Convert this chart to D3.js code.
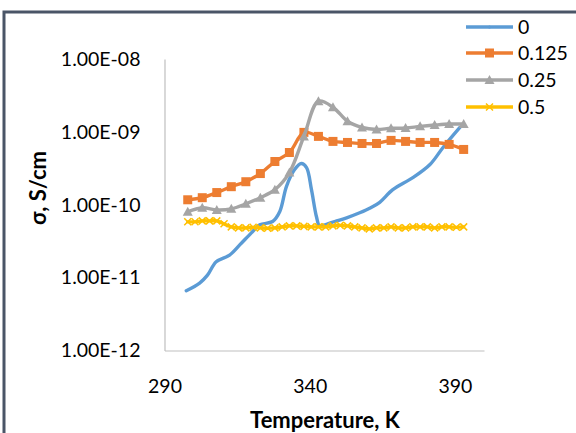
<!DOCTYPE html>
<html>
<head>
<meta charset="utf-8">
<script src="https://cdn.jsdelivr.net/npm/d3@7"></script>
<style>
  html, body { margin: 0; padding: 0; background: #fff; }
  svg { display: block; }
  text { font-family: Lato, "Open Sans", sans-serif; fill: #000; }
</style>
</head>
<body>
<svg id="chart" width="576" height="433"></svg>
<script>
// ---------- data ----------
const seriesNames = ["0", "0.125", "0.25", "0.5"];
const seriesColors = ["#5B9BD5", "#ED7D31", "#A5A5A5", "#FFC000"];

const tempBlue = [297.5, 302.1, 304.8, 307.8, 312.4, 315.9, 319.9, 322.8, 327.2, 329.7,
  332.0, 334.8, 337.1, 338.9, 340.6, 342.3, 343.4, 345.2, 348.6, 352.7,
  357.2, 361.0, 364.1, 368.6, 375.5, 381.4, 385.9, 391.7];
const sigmaBlue = [6.6e-12, 8.4e-12, 1.08e-11, 1.65e-11, 2.04e-11, 2.81e-11, 4.11e-11, 5.30e-11, 5.89e-11, 8.09e-11,
  1.79e-10, 3.04e-10, 3.68e-10, 3.24e-10, 1.61e-10, 6.90e-11, 5.13e-11, 5.30e-11, 5.89e-11, 6.62e-11,
  7.76e-11, 9.10e-11, 1.08e-10, 1.61e-10, 2.35e-10, 3.56e-10, 6.11e-10, 1.15e-9];

const tempMarked = [298, 303, 308, 313, 318, 323, 328, 333, 338, 343,
  348, 353, 358, 363, 368, 373, 378, 383, 388, 393];
const sigmaOrange = [1.17e-10, 1.25e-10, 1.47e-10, 1.77e-10, 2.07e-10, 2.68e-10, 3.92e-10, 5.21e-10, 9.84e-10, 8.67e-10,
  7.40e-10, 7.16e-10, 6.93e-10, 6.93e-10, 7.64e-10, 7.40e-10, 7.16e-10, 7.16e-10, 6.73e-10, 5.74e-10];
const sigmaGray = [8.0e-11, 9.1e-11, 8.5e-11, 8.8e-11, 1.03e-10, 1.25e-10, 1.61e-10, 2.76e-10, 8.67e-10, 2.64e-9,
  2.18e-9, 1.40e-9, 1.15e-9, 1.08e-9, 1.12e-9, 1.13e-9, 1.19e-9, 1.24e-9, 1.28e-9, 1.28e-9];

const tempYellow = [298, 300.5, 303, 305.5, 308, 310.5, 313, 315.5, 318, 320.5,
  323, 325.5, 328, 330.5, 333, 335.5, 338, 340.5, 343, 345.5,
  348, 350.5, 353, 355.5, 358, 360.5, 363, 365.5, 368, 370.5,
  373, 375.5, 378, 380.5, 383, 385.5, 388, 390.5, 393];
const sigmaYellow = [5.83e-11, 5.83e-11, 6.01e-11, 6.01e-11, 6.01e-11, 5.47e-11, 4.97e-11, 4.82e-11, 4.82e-11, 4.90e-11,
  4.82e-11, 4.75e-11, 4.82e-11, 4.97e-11, 5.13e-11, 5.13e-11, 5.05e-11, 4.97e-11, 4.97e-11, 4.97e-11,
  5.13e-11, 5.21e-11, 5.13e-11, 4.97e-11, 4.82e-11, 4.67e-11, 4.82e-11, 4.82e-11, 4.97e-11, 4.82e-11,
  4.82e-11, 4.97e-11, 4.97e-11, 4.97e-11, 4.82e-11, 4.97e-11, 4.97e-11, 4.90e-11, 4.97e-11];

const xTicks = [290, 340, 390];
const yTicks = [1e-12, 1e-11, 1e-10, 1e-9, 1e-8];
const yTickLabels = ["1.00E-12", "1.00E-11", "1.00E-10", "1.00E-09", "1.00E-08"];
const xTitle = "Temperature, K";
const yTitle = "σ, S/cm";

// ---------- layout ----------
const svg = d3.select("#chart");
const plot = { left: 164.5, right: 484, top: 59, bottom: 350.5 };

const x = d3.scaleLinear().domain([290, 400]).range([plot.left, plot.right]);
const y = d3.scaleLog().domain([1e-12, 1e-8]).range([plot.bottom, plot.top]);

// outer frame (partial border visible in reference)
svg.append("path")
  .attr("d", `M4,433 L4,12 L576,12`)
  .attr("fill", "none")
  .attr("stroke", "#4a5567")
  .attr("stroke-width", 3);

// axes
const yAxis = d3.axisLeft(y)
  .tickValues(yTicks)
  .tickFormat((d, i) => yTickLabels[i])
  .tickSize(0).tickSizeOuter(0).tickPadding(24);
const gy = svg.append("g").attr("transform", `translate(${plot.left},0)`).call(yAxis);
gy.select(".domain").attr("stroke", "#BFBFBF").attr("stroke-width", 1.2);
gy.selectAll("text").style("font-family", "Lato, sans-serif").style("font-size", "19.5px").attr("fill", "#000");

const xAxis = d3.axisBottom(x)
  .tickValues(xTicks)
  .tickFormat(d3.format("d"))
  .tickSize(0).tickSizeOuter(0).tickPadding(29);
const gx = svg.append("g").attr("transform", `translate(0,${plot.bottom})`).call(xAxis);
gx.select(".domain").attr("stroke", "#BFBFBF").attr("stroke-width", 1.2);
gx.selectAll("text").style("font-family", "Lato, sans-serif").style("font-size", "19.5px").attr("fill", "#000");

// axis titles
svg.append("text")
  .attr("x", 325).attr("y", 428)
  .attr("text-anchor", "middle")
  .style("font-size", "22px").style("font-weight", "bold")
  .text(xTitle);
svg.append("text")
  .attr("transform", `translate(46,188) rotate(-90)`)
  .attr("text-anchor", "middle")
  .style("font-size", "22px").style("font-weight", "bold")
  .text(yTitle);

// ---------- series ----------
const line = d3.line()
  .x(d => x(d[0])).y(d => y(d[1]))
  .curve(d3.curveCatmullRom.alpha(0.5));

const series = [
  { data: d3.zip(tempBlue, sigmaBlue), marker: "none" },
  { data: d3.zip(tempMarked, sigmaOrange), marker: "square" },
  { data: d3.zip(tempMarked, sigmaGray), marker: "triangle" },
  { data: d3.zip(tempYellow, sigmaYellow), marker: "cross" }
];

function drawMarker(g, type, color, cx, cy) {
  if (type === "square") {
    g.append("rect").attr("x", cx - 4.5).attr("y", cy - 4.5).attr("width", 9).attr("height", 9)
      .attr("fill", color);
  } else if (type === "triangle") {
    g.append("path").attr("d", `M${cx},${cy - 5} L${cx + 5},${cy + 4} L${cx - 5},${cy + 4} Z`)
      .attr("fill", color);
  } else if (type === "cross") {
    g.append("path").attr("d", `M${cx - 3.5},${cy - 3.5} L${cx + 3.5},${cy + 3.5} M${cx - 3.5},${cy + 3.5} L${cx + 3.5},${cy - 3.5}`)
      .attr("stroke", color).attr("stroke-width", 1.5);
  } else if (type === "dot") {
    g.append("circle").attr("cx", cx).attr("cy", cy).attr("r", 1.5).attr("fill", color);
  }
}

series.forEach((s, i) => {
  const g = svg.append("g");
  g.append("path").datum(s.data)
    .attr("d", line)
    .attr("fill", "none")
    .attr("stroke", seriesColors[i])
    .attr("stroke-width", 3.4)
    .attr("stroke-linejoin", "round")
    .attr("stroke-linecap", "round");
  s.data.forEach(d => drawMarker(g, s.marker, seriesColors[i], x(d[0]), y(d[1])));
});

// ---------- legend ----------
const legendRows = [27, 53, 80, 107];
seriesNames.forEach((name, i) => {
  const g = svg.append("g");
  const ly = legendRows[i];
  g.append("line").attr("x1", 466).attr("x2", 513).attr("y1", ly).attr("y2", ly)
    .attr("stroke", seriesColors[i]).attr("stroke-width", 3.4);
  drawMarker(g, i === 0 ? "dot" : series[i].marker, seriesColors[i], 489.5, ly);
  g.append("text").attr("x", 518).attr("y", ly).attr("dy", "0.35em")
    .style("font-size", "19.5px").text(name);
});
</script>
</body>
</html>
